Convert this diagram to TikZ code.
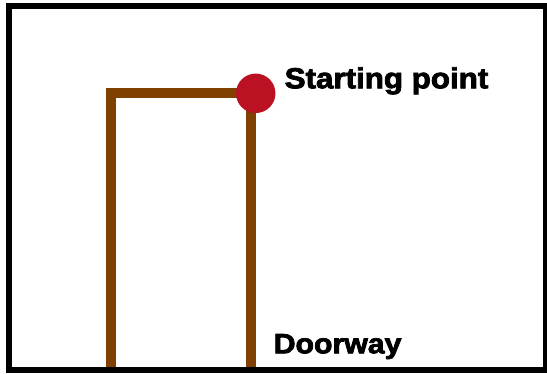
\documentclass[tikz,border=0pt]{standalone}
\usepackage{fontspec}
\setmainfont{Liberation Sans}
\newfontfamily\heavy[FakeBold=2.6]{Liberation Sans Bold}
\definecolor{doorbrown}{RGB}{128,64,0}
\definecolor{dotred}{RGB}{186,18,34}
\tikzset{
  doorline/.style={draw=doorbrown, line width=10pt},
  frameline/.style={draw=black, line width=6pt},
  label/.style={anchor=base west, inner sep=0pt, xscale=1.08}
}
\begin{document}
\begin{tikzpicture}[x=1pt,y=-1pt]
\useasboundingbox (0,0) rectangle (547,373);
\fill[white] (0,0) rectangle (547,373);
\coordinate (bl) at (110.5,371);
\coordinate (tl) at (110.5,93);
\coordinate (tr) at (250.5,93);
\coordinate (br) at (250.5,371);
\draw[doorline] (bl) -- (tl) -- (tr) -- (br);
\draw[frameline] (9,6) rectangle (546,370);
\node[circle, fill=dotred, minimum size=39.5pt, inner sep=0pt] (start) at (255.7,93.3) {};
\node[label, font=\fontsize{29}{34}\selectfont\heavy] (st) at (284.5,88.3) {Starting point};
\node[label, font=\fontsize{28}{33}\selectfont\heavy] (dw) at (273.5,353.3) {Doorway};
\end{tikzpicture}
\end{document}
